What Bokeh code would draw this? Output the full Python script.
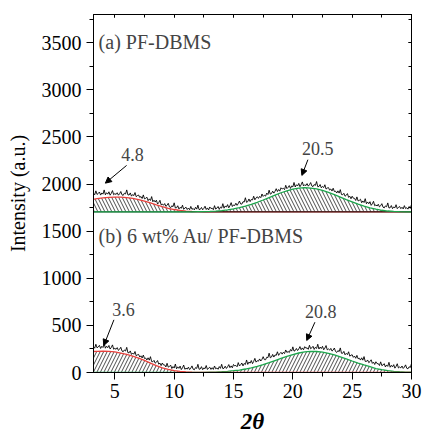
import numpy as np
from bokeh.plotting import figure
from bokeh.models import (Range1d, LinearAxis, Label, Arrow, NormalHead,
                          SingleIntervalTicker, CustomJSTickFormatter)
from bokeh.embed import file_html
from bokeh.resources import INLINE

# ---------------- data ----------------
two_theta = np.round(np.arange(3.2, 30.0001, 0.1), 1)          # measurement grid
fit_x = np.round(np.arange(3.0, 30.0001, 0.5), 1)              # fitted-curve grid

# (a) PF-DBMS raw intensity
int_a = [1903, 1886, 1928, 1890, 1900, 1916, 1883, 1906, 1893, 1938,
         1886, 1908, 1893, 1918, 1882, 1902, 1931, 1887, 1899, 1890,
         1908, 1882, 1897, 1921, 1886, 1880, 1903, 1895, 1938, 1885,
         1884, 1906, 1872, 1889, 1878, 1910, 1866, 1878, 1884, 1858,
         1868, 1847, 1885, 1843, 1849, 1861, 1824, 1843, 1826, 1867,
         1812, 1829, 1809, 1829, 1788, 1803, 1828, 1780, 1788, 1775,
         1793, 1763, 1775, 1796, 1758, 1749, 1770, 1760, 1801, 1746,
         1748, 1770, 1736, 1753, 1743, 1776, 1732, 1746, 1754, 1730,
         1746, 1728, 1763, 1732, 1741, 1726, 1754, 1734, 1776, 1729,
         1732, 1752, 1727, 1742, 1765, 1730, 1747, 1725, 1757, 1740,
         1744, 1728, 1771, 1734, 1745, 1762, 1731, 1756, 1745, 1792,
         1744, 1768, 1755, 1782, 1748, 1771, 1803, 1762, 1778, 1772,
         1797, 1774, 1793, 1820, 1789, 1787, 1813, 1809, 1855, 1806,
         1814, 1842, 1814, 1837, 1832, 1871, 1833, 1853, 1866, 1848,
         1869, 1856, 1895, 1869, 1882, 1872, 1904, 1889, 1935, 1893,
         1900, 1925, 1904, 1924, 1951, 1921, 1942, 1925, 1961, 1948,
         1955, 1941, 1987, 1952, 1965, 1984, 1954, 1980, 1970, 2017,
         1969, 1993, 1980, 2007, 1972, 1993, 2023, 1980, 1993, 1984,
         2005, 1978, 1993, 2016, 1980, 1973, 1995, 1986, 2027, 1972,
         1974, 1995, 1960, 1975, 1963, 1993, 1947, 1958, 1963, 1936,
         1948, 1926, 1956, 1921, 1925, 1905, 1928, 1904, 1941, 1889,
         1887, 1902, 1871, 1881, 1899, 1859, 1871, 1844, 1871, 1850,
         1848, 1826, 1864, 1821, 1827, 1839, 1802, 1821, 1804, 1845,
         1791, 1810, 1791, 1813, 1774, 1791, 1817, 1770, 1779, 1767,
         1786, 1758, 1770, 1792, 1755, 1747, 1768, 1759, 1800, 1746,
         1749, 1772, 1739, 1757, 1748, 1781, 1739, 1753, 1762, 1739,
         1754, 1736, 1771, 1740, 1749, 1734, 1762, 1742, 1784]

# (b) 6 wt% Au/ PF-DBMS raw intensity
int_b = [275, 258, 300, 262, 272, 288, 255, 278, 265, 310,
         258, 279, 263, 287, 249, 266, 293, 247, 257, 246,
         264, 235, 247, 268, 229, 220, 239, 228, 267, 210,
         209, 229, 192, 207, 194, 223, 177, 187, 192, 164,
         177, 154, 185, 149, 153, 133, 156, 131, 168, 116,
         114, 129, 99, 109, 127, 88, 100, 73, 101, 80,
         80, 59, 98, 57, 64, 78, 42, 63, 47, 90,
         39, 60, 44, 68, 31, 50, 79, 34, 46, 36,
         57, 31, 46, 70, 35, 29, 52, 44, 87, 34,
         38, 62, 30, 49, 40, 74, 32, 47, 56, 33,
         51, 33, 69, 39, 48, 34, 63, 44, 87, 41,
         45, 67, 43, 60, 84, 51, 70, 50, 85, 70,
         75, 61, 105, 69, 82, 101, 70, 96, 85, 133,
         86, 111, 99, 127, 94, 118, 150, 110, 125, 120,
         144, 122, 140, 168, 137, 135, 162, 158, 205, 156,
         164, 192, 164, 187, 182, 220, 182, 201, 214, 195,
         215, 201, 239, 212, 224, 212, 244, 227, 272, 227,
         233, 255, 233, 250, 275, 242, 261, 241, 274, 258,
         262, 246, 289, 252, 262, 278, 245, 268, 255, 300,
         249, 270, 254, 278, 241, 259, 286, 240, 250, 238,
         256, 227, 239, 260, 223, 213, 233, 221, 261, 204,
         204, 224, 188, 203, 190, 220, 173, 184, 188, 161,
         174, 151, 182, 146, 151, 132, 156, 131, 169, 118,
         117, 133, 104, 116, 135, 97, 110, 85, 114, 94,
         94, 74, 113, 73, 80, 94, 59, 80, 65, 108,
         56, 76, 60, 83, 46, 65, 93, 48, 59, 49,
         69, 43, 57, 81, 45, 39, 61, 53, 95]

base_a = 1705
fit_a_low = [1834, 1845, 1853, 1859, 1862, 1861, 1857, 1849, 1836, 1820,
             1800, 1779, 1760, 1743, 1730, 1720, 1713, 1709, 1707, 1706] + [1705] * 35
fit_a_halo = [1705] * 17 + [1706, 1707, 1708, 1710, 1713, 1718, 1726, 1736, 1749,
              1765, 1785, 1807, 1831, 1857, 1883, 1908, 1929, 1946, 1957, 1962,
              1958, 1948, 1932, 1911, 1887, 1861, 1835, 1811, 1787, 1766, 1748,
              1734, 1722, 1714, 1710, 1707, 1706, 1705]

base_b = 0
fit_b_low = [222, 225, 227, 225, 218, 206, 192, 175, 153, 128,
             100, 72, 50, 32, 20, 12, 7, 4, 2, 1] + [0] * 35
fit_b_halo = [0] * 20 + [3, 5, 8, 13, 19, 26, 37, 50, 66, 84, 105, 127, 149, 171,
              191, 207, 218, 224, 223, 216, 204, 187, 167, 145, 122, 100, 80,
              62, 42, 30, 20, 13, 8, 5, 3]

panel_labels = ["(a) PF-DBMS", "(b) 6 wt% Au/ PF-DBMS"]
peak_labels = ["4.8", "20.5", "3.6", "20.8"]

# ---------------- figure ----------------
SERIF = "Liberation Serif"
RED = "#e8403c"
GREEN = "#1ca64c"

p = figure(width=423, height=442, output_backend="svg", toolbar_location=None,
           x_range=Range1d(3.2, 30), y_range=Range1d(0, 3800),
           min_border_left=93, min_border_right=12, min_border_top=14,
           min_border_bottom=70)
p.background_fill_color = "white"
p.border_fill_color = "white"
p.outline_line_color = "black"
p.outline_line_width = 1
p.xgrid.visible = False
p.ygrid.visible = False

xt = SingleIntervalTicker(interval=5, num_minor_ticks=2)
yt = SingleIntervalTicker(interval=500, num_minor_ticks=2)

p.xaxis.ticker = xt
p.yaxis.ticker = yt
for ax in (p.xaxis[0], p.yaxis[0]):
    ax.major_label_text_font = SERIF
    ax.major_label_text_font_size = "20px"
    ax.major_label_text_color = "black"
    ax.axis_line_color = "black"
    ax.major_tick_line_color = "black"
    ax.minor_tick_line_color = "black"
    ax.major_tick_in = 0
    ax.major_tick_out = 7
    ax.minor_tick_in = 0
    ax.minor_tick_out = 4
    ax.axis_label_text_color = "black"
p.xaxis.major_label_standoff = 4
p.yaxis.major_label_standoff = 5
p.yaxis.axis_label = "Intensity (a.u.)"
p.yaxis.axis_label_text_font = SERIF
p.yaxis.axis_label_text_font_size = "20px"
p.yaxis.axis_label_text_font_style = "normal"
p.yaxis.axis_label_standoff = 10
p.xaxis.axis_label = "2θ"
p.xaxis.axis_label_text_font = SERIF
p.xaxis.axis_label_text_font_size = "23px"
p.xaxis.axis_label_text_font_style = "bold italic"
p.xaxis.axis_label_standoff = 8

# mirrored tick-only axes on top and right
blank = CustomJSTickFormatter(code="return ''")
for loc, tick in (("above", xt), ("right", yt)):
    ax = LinearAxis(ticker=tick, formatter=blank, major_label_text_font_size="8px",
                    major_label_standoff=0, major_tick_in=3, major_tick_out=0,
                    minor_tick_in=3, minor_tick_out=0, axis_line_color="black",
                    major_tick_line_color="black", minor_tick_line_color="black")
    p.add_layout(ax, loc)

# hatched fitted peaks
HS, HW = 7, 0.7
p.varea(x=fit_x, y1=[base_a] * len(fit_x), y2=fit_a_low, fill_color=None,
        hatch_pattern="\\", hatch_color="black", hatch_scale=HS, hatch_weight=HW)
p.varea(x=fit_x, y1=[base_a] * len(fit_x), y2=fit_a_halo, fill_color=None,
        hatch_pattern="\\", hatch_color="black", hatch_scale=HS, hatch_weight=HW)
p.varea(x=fit_x, y1=[base_b] * len(fit_x), y2=fit_b_low, fill_color=None,
        hatch_pattern="/", hatch_color="black", hatch_scale=HS, hatch_weight=HW)
p.varea(x=fit_x, y1=[base_b] * len(fit_x), y2=fit_b_halo, fill_color=None,
        hatch_pattern="/", hatch_color="black", hatch_scale=HS, hatch_weight=HW)

# raw patterns
p.line(two_theta, int_a, line_color="black", line_width=0.9)
p.line(two_theta, int_b, line_color="black", line_width=0.9)

# fitted curves and panel separator
p.line(fit_x, fit_a_low, line_color=RED, line_width=1.3)
p.line([p.x_range.start, p.x_range.end], [base_a, base_a], line_color="black", line_width=1)
p.line(fit_x, fit_a_halo, line_color=GREEN, line_width=1.3)
p.line(fit_x, fit_b_halo, line_color=GREEN, line_width=1.3)
p.line(fit_x, fit_b_low, line_color=RED, line_width=1.3)

# panel labels
p.add_layout(Label(x=3.63, y=3503, text=panel_labels[0], text_font=SERIF,
                   text_font_size="20px", text_baseline="middle", text_align="left"))
p.add_layout(Label(x=3.63, y=1454, text=panel_labels[1], text_font=SERIF,
                   text_font_size="20px", text_baseline="middle", text_align="left"))

# peak annotations with arrows
ann = [(6.49, 2315, 5.99, 2198, 4.2, 2010),
       (22.09, 2379, 21.27, 2259, 20.76, 2092),
       (5.73, 669, 4.92, 559, 4.07, 287),
       (22.35, 648, 21.86, 534, 21.17, 340)]
for txt, (tx, ty, xs, ys, xe, ye) in zip(peak_labels, ann):
    p.add_layout(Label(x=tx, y=ty, text=txt, text_font=SERIF, text_font_size="18px",
                       text_baseline="middle", text_align="center"))
    p.add_layout(Arrow(end=NormalHead(size=6, fill_color="black", line_color="black"),
                       x_start=xs, y_start=ys, x_end=xe, y_end=ye,
                       line_color="black", line_width=1))

open("out.html", "w").write(file_html(p, INLINE))
